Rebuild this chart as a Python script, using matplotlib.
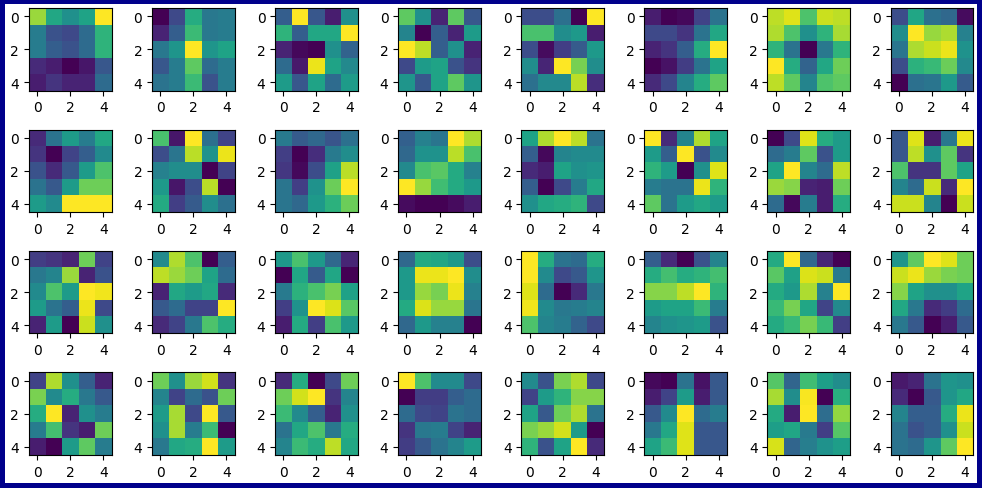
import numpy as np
import matplotlib
matplotlib.use("Agg")
import matplotlib.pyplot as plt

# 5x5 grids, one per panel (row-major over the 4x8 layout)
grid_r0c0 = [[0.85, 0.60, 0.50, 0.58, 1.00],
             [0.42, 0.25, 0.22, 0.35, 0.65],
             [0.42, 0.30, 0.25, 0.35, 0.65],
             [0.12, 0.08, 0.00, 0.06, 0.27],
             [0.08, 0.15, 0.10, 0.10, 0.35]]
grid_r0c1 = [[0.00, 0.22, 0.62, 0.40, 0.42],
             [0.10, 0.30, 0.68, 0.40, 0.42],
             [0.40, 0.52, 1.00, 0.52, 0.58],
             [0.27, 0.42, 0.75, 0.35, 0.42],
             [0.38, 0.42, 0.68, 0.25, 0.42]]
grid_r0c2 = [[0.30, 1.00, 0.27, 0.08, 0.50],
             [0.65, 0.30, 0.60, 0.60, 1.00],
             [0.10, 0.02, 0.00, 0.50, 0.32],
             [0.35, 0.07, 0.97, 0.58, 0.47],
             [0.55, 0.27, 0.58, 0.35, 0.55]]
grid_r0c3 = [[0.75, 0.50, 0.10, 0.75, 0.27],
             [0.45, 0.00, 0.30, 0.10, 0.55],
             [1.00, 0.90, 0.30, 0.50, 0.10],
             [0.22, 0.55, 0.58, 0.25, 0.15],
             [0.52, 0.27, 0.58, 0.75, 0.52]]
grid_r0c4 = [[0.25, 0.25, 0.38, 0.02, 1.00],
             [0.72, 0.72, 0.50, 0.55, 0.10],
             [0.25, 0.05, 0.20, 0.30, 0.55],
             [0.50, 0.12, 1.00, 0.80, 0.50],
             [0.38, 0.48, 0.48, 0.90, 0.15]]
grid_r0c5 = [[0.08, 0.00, 0.02, 0.20, 0.38],
             [0.22, 0.22, 0.15, 0.38, 0.60],
             [0.10, 0.15, 0.30, 0.62, 1.00],
             [0.00, 0.05, 0.18, 0.38, 0.58],
             [0.12, 0.22, 0.45, 0.62, 0.75]]
grid_r0c6 = [[0.90, 0.95, 0.72, 0.92, 0.90],
             [0.88, 0.72, 0.50, 0.65, 0.87],
             [0.65, 0.38, 0.00, 0.40, 0.65],
             [1.00, 0.62, 0.32, 0.60, 0.78],
             [0.90, 0.75, 0.45, 0.72, 0.75]]
grid_r0c7 = [[0.25, 0.60, 0.38, 0.35, 0.05],
             [0.50, 1.00, 0.85, 0.88, 0.45],
             [0.40, 0.88, 0.92, 0.97, 0.52],
             [0.25, 0.65, 0.68, 0.78, 0.48],
             [0.02, 0.38, 0.40, 0.55, 0.30]]

grid_r1c0 = [[0.12, 0.38, 0.55, 0.42, 0.60],
             [0.15, 0.00, 0.20, 0.30, 0.48],
             [0.25, 0.12, 0.28, 0.55, 0.72],
             [0.38, 0.28, 0.55, 0.78, 0.78],
             [0.55, 0.48, 1.00, 1.00, 1.00]]
grid_r1c1 = [[0.72, 0.08, 1.00, 0.38, 0.22],
             [0.25, 0.40, 0.90, 0.52, 0.97],
             [0.45, 0.50, 0.50, 0.02, 0.22],
             [0.55, 0.08, 0.25, 0.90, 0.02],
             [0.62, 0.20, 0.30, 0.50, 0.38]]
grid_r1c2 = [[0.42, 0.30, 0.35, 0.28, 0.38],
             [0.20, 0.02, 0.15, 0.42, 0.50],
             [0.18, 0.04, 0.25, 0.58, 0.90],
             [0.40, 0.20, 0.52, 0.78, 1.00],
             [0.40, 0.35, 0.55, 0.65, 0.78]]
grid_r1c3 = [[0.32, 0.45, 0.40, 1.00, 0.88],
             [0.35, 0.52, 0.52, 0.90, 0.72],
             [0.48, 0.72, 0.75, 0.62, 0.45],
             [1.00, 0.85, 0.70, 0.62, 0.55],
             [0.05, 0.02, 0.02, 0.05, 0.10]]
grid_r1c4 = [[0.58, 0.88, 1.00, 0.90, 0.38],
             [0.30, 0.02, 0.45, 0.48, 0.48],
             [0.12, 0.08, 0.58, 0.50, 0.52],
             [0.30, 0.00, 0.22, 0.42, 0.60],
             [0.50, 0.60, 0.62, 0.65, 0.22]]
grid_r1c5 = [[1.00, 0.12, 0.45, 0.88, 0.58],
             [0.55, 0.30, 1.00, 0.25, 0.48],
             [0.65, 0.55, 0.00, 0.50, 0.95],
             [0.42, 0.38, 0.38, 0.97, 0.65],
             [0.75, 0.38, 0.55, 0.60, 0.55]]
grid_r1c6 = [[0.00, 0.22, 0.95, 0.62, 0.55],
             [0.35, 0.42, 0.75, 0.25, 0.55],
             [0.58, 1.00, 0.45, 0.35, 0.90],
             [0.85, 0.82, 0.10, 0.08, 0.78],
             [0.35, 0.02, 0.42, 0.08, 0.62]]
grid_r1c7 = [[0.27, 0.95, 0.08, 0.40, 0.97],
             [0.27, 0.90, 0.50, 0.75, 0.15],
             [0.72, 0.15, 0.15, 0.75, 0.58],
             [0.45, 0.35, 0.92, 0.12, 1.00],
             [0.92, 0.92, 0.45, 0.00, 0.92]]

grid_r2c0 = [[0.18, 0.15, 0.10, 0.78, 0.20],
             [0.40, 0.45, 0.85, 0.10, 0.25],
             [0.48, 0.72, 0.55, 1.00, 0.98],
             [0.55, 0.38, 0.30, 0.97, 0.22],
             [0.10, 0.55, 0.00, 0.92, 0.50]]
grid_r2c1 = [[0.48, 0.88, 0.72, 0.00, 0.30],
             [0.90, 0.85, 0.78, 0.58, 0.35],
             [0.10, 0.60, 0.55, 0.60, 0.12],
             [0.28, 0.35, 0.20, 0.20, 1.00],
             [0.12, 0.20, 0.40, 0.72, 0.62]]
grid_r2c2 = [[0.55, 0.72, 0.55, 0.35, 0.12],
             [0.02, 0.60, 0.30, 0.60, 0.02],
             [0.42, 0.65, 0.72, 0.80, 0.58],
             [0.20, 0.52, 1.00, 0.95, 0.75],
             [0.10, 0.62, 0.20, 0.72, 0.55]]
grid_r2c3 = [[0.35, 0.62, 0.60, 0.55, 0.25],
             [0.55, 0.97, 0.97, 1.00, 0.50],
             [0.55, 0.85, 0.80, 0.97, 0.45],
             [0.62, 0.95, 0.85, 0.85, 0.40],
             [0.35, 0.55, 0.45, 0.45, 0.02]]
grid_r2c4 = [[1.00, 0.62, 0.38, 0.35, 0.62],
             [1.00, 0.48, 0.22, 0.28, 0.52],
             [0.95, 0.35, 0.00, 0.12, 0.40],
             [0.98, 0.48, 0.40, 0.42, 0.45],
             [0.72, 0.45, 0.42, 0.32, 0.22]]
grid_r2c5 = [[0.30, 0.12, 0.00, 0.25, 0.45],
             [0.62, 0.70, 0.62, 0.65, 0.70],
             [0.82, 0.82, 0.90, 1.00, 0.65],
             [0.55, 0.58, 0.58, 0.68, 0.42],
             [0.45, 0.50, 0.52, 0.55, 0.25]]
grid_r2c6 = [[0.62, 1.00, 0.35, 0.12, 0.02],
             [0.75, 0.58, 0.95, 0.92, 0.42],
             [0.62, 0.55, 0.88, 0.45, 1.00],
             [0.68, 0.80, 0.60, 0.22, 0.48],
             [0.62, 0.68, 0.80, 0.68, 0.20]]
grid_r2c7 = [[0.52, 0.75, 1.00, 0.95, 0.78],
             [0.92, 0.97, 0.85, 0.80, 0.78],
             [0.82, 0.58, 0.50, 0.50, 0.58],
             [0.60, 0.40, 0.12, 0.18, 0.35],
             [0.40, 0.28, 0.00, 0.08, 0.28]]

grid_r3c0 = [[0.20, 0.88, 0.50, 0.30, 0.10],
             [0.80, 0.48, 0.62, 0.40, 0.28],
             [0.62, 1.00, 0.10, 0.50, 0.42],
             [0.42, 0.70, 0.15, 0.08, 0.78],
             [0.08, 0.00, 0.55, 0.75, 0.42]]
grid_r3c1 = [[0.78, 0.50, 0.85, 0.93, 0.15],
             [0.45, 0.20, 0.35, 0.25, 0.78],
             [0.55, 0.87, 0.22, 1.00, 0.28],
             [0.50, 0.87, 0.42, 0.68, 0.00],
             [0.40, 0.60, 0.62, 1.00, 0.55]]
grid_r3c2 = [[0.12, 0.62, 0.00, 0.22, 0.78],
             [0.78, 0.93, 1.00, 0.15, 0.45],
             [0.68, 0.48, 0.30, 0.10, 0.50],
             [0.38, 0.60, 0.72, 0.40, 0.62],
             [0.45, 0.68, 0.62, 0.90, 0.60]]
grid_r3c3 = [[1.00, 0.72, 0.48, 0.48, 0.22],
             [0.00, 0.18, 0.18, 0.30, 0.35],
             [0.35, 0.22, 0.20, 0.38, 0.35],
             [0.15, 0.40, 0.42, 0.20, 0.10],
             [0.18, 0.28, 0.38, 0.45, 0.55]]
grid_r3c4 = [[0.48, 0.25, 0.80, 0.88, 0.22],
             [0.20, 0.55, 0.65, 0.82, 0.82],
             [0.58, 0.28, 0.78, 0.88, 0.38],
             [0.80, 0.85, 0.93, 0.55, 0.00],
             [0.65, 0.25, 0.58, 1.00, 0.12]]
grid_r3c5 = [[0.02, 0.00, 0.38, 0.05, 0.28],
             [0.08, 0.20, 0.55, 0.08, 0.28],
             [0.28, 0.48, 1.00, 0.35, 0.42],
             [0.40, 0.60, 0.95, 0.27, 0.27],
             [0.58, 0.68, 0.95, 0.27, 0.27]]
grid_r3c6 = [[0.72, 0.32, 0.68, 0.55, 0.48],
             [0.85, 0.48, 0.97, 0.00, 0.62],
             [0.60, 0.08, 0.98, 0.35, 0.82],
             [0.55, 0.58, 0.40, 0.18, 0.72],
             [0.92, 0.32, 0.42, 0.50, 0.55]]
grid_r3c7 = [[0.07, 0.10, 0.38, 0.52, 0.50],
             [0.12, 0.00, 0.28, 0.52, 0.60],
             [0.45, 0.30, 0.30, 0.62, 0.97],
             [0.38, 0.25, 0.30, 0.50, 0.92],
             [0.38, 0.35, 0.52, 0.75, 1.00]]

grids = [
    grid_r0c0, grid_r0c1, grid_r0c2, grid_r0c3, grid_r0c4, grid_r0c5, grid_r0c6, grid_r0c7,
    grid_r1c0, grid_r1c1, grid_r1c2, grid_r1c3, grid_r1c4, grid_r1c5, grid_r1c6, grid_r1c7,
    grid_r2c0, grid_r2c1, grid_r2c2, grid_r2c3, grid_r2c4, grid_r2c5, grid_r2c6, grid_r2c7,
    grid_r3c0, grid_r3c1, grid_r3c2, grid_r3c3, grid_r3c4, grid_r3c5, grid_r3c6, grid_r3c7,
]

fig, axes = plt.subplots(4, 8, figsize=(9.82, 4.89), dpi=100)
fig.patch.set_edgecolor('darkblue')
fig.patch.set_linewidth(6)

for ax, g in zip(axes.flat, grids):
    ax.imshow(np.array(g), cmap='viridis')
    ax.set_xticks([0, 2, 4])
    ax.set_yticks([0, 2, 4])

plt.subplots_adjust(left=0.0295, right=0.991, top=0.9816, bottom=0.0675,
                    wspace=0.49, hspace=0.464)
plt.savefig('out.png', edgecolor=fig.get_edgecolor())
